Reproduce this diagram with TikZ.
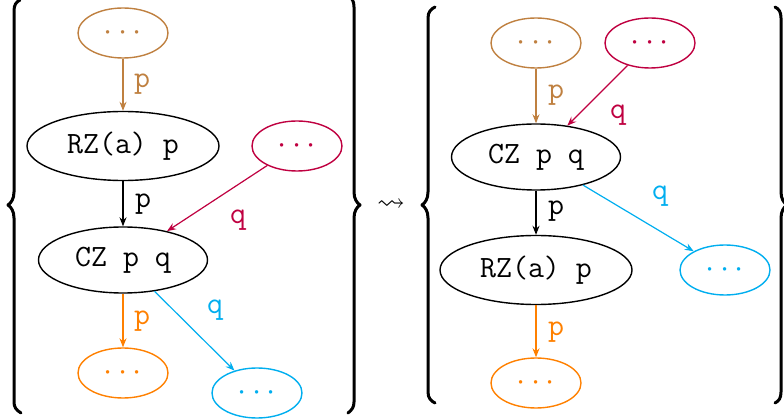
\RequirePackage{fix-cm}
\documentclass[tikz,border=0pt]{standalone}
\usepackage{amssymb}
\usepackage{graphicx}
\usepackage{fontspec}
\usetikzlibrary{shapes.geometric,arrows.meta}
\definecolor{cbrown}{RGB}{191,128,64}
\definecolor{cred}{RGB}{191,0,64}
\definecolor{corange}{RGB}{255,128,0}
\definecolor{ccyan}{RGB}{0,174,239}
\tikzset{
  every node/.style={font=\fontsize{31}{37}\selectfont\ttfamily},
  gate/.style={ellipse,draw,line width=1.4pt,inner sep=0pt},
  big/.style={gate,minimum width=192pt,minimum height=69pt},
  mid/.style={gate,minimum width=169pt,minimum height=66pt},
  dots/.style={gate,minimum width=90pt,minimum height=50pt,font=\fontsize{32.6}{38}\selectfont},
  conn/.style={line width=1.2pt,-{Stealth[length=9pt,width=7pt,inset=3pt]}},
  lbl/.style={inner sep=0pt},
  bracepath/.style={line width=3pt,line cap=round,line join=round}
}
\newcommand{\dd}{$\cdots$}
\begin{document}
\begin{tikzpicture}[x=1pt,y=-1pt]
\useasboundingbox (0,0) rectangle (784,419);
% left group
\node[dots,cbrown] (L1) at (123,33) {\dd};
\node[big] (L2) at (123,146) {RZ(a) p};
\node[dots,cred] (L3) at (297,146) {\dd};
\node[mid] (L4) at (123,260) {CZ p q};
\node[dots,corange] (L5) at (123,373) {\dd};
\node[dots,ccyan] (L6) at (257,393) {\dd};
\draw[conn,cbrown] (L1) -- (L2);
\draw[conn] (L2) -- (L4);
\draw[conn,cred] (L3) -- (L4);
\draw[conn,corange] (L4) -- (L5);
\draw[conn,ccyan] (L4) -- (L6);
\node[lbl,cbrown] (l1) at (142,84) {p};
\node[lbl] (l2) at (143,204) {p};
\node[lbl,cred] (l3) at (238,220) {q};
\node[lbl,corange] (l4) at (142,321) {p};
\node[lbl,ccyan] (l5) at (215,310) {q};
% braces
\draw[bracepath] (20,0) .. controls (16,2) and (14,5) .. (14,11) -- (14,192)
  .. controls (14,199) and (11,203) .. (8,205) .. controls (11,207) and (14,211) .. (14,218)
  -- (14,402) .. controls (14,407) and (16,410) .. (21,413);
\draw[bracepath] (348,-4) .. controls (352,-2) and (354,1) .. (354,7) -- (354,192)
  .. controls (354,199) and (357,203) .. (360,205) .. controls (357,207) and (354,211) .. (354,218)
  -- (354,402) .. controls (354,407) and (352,410) .. (348,413);
\node[font=\fontsize{24.88}{30}\selectfont] (sq) at (391,205) {\scalebox{1.12}{$\leadsto$}};
\draw[bracepath] (435,7) .. controls (431,9) and (428,12) .. (428,18) -- (428,192)
  .. controls (428,199) and (425,203) .. (422,205) .. controls (425,207) and (428,211) .. (428,218)
  -- (428,392) .. controls (428,398) and (431,401) .. (435,403);
\draw[bracepath] (775,7) .. controls (779,9) and (781,12) .. (781,18) -- (781,192)
  .. controls (781,199) and (784,203) .. (787,205) .. controls (784,207) and (781,211) .. (781,218)
  -- (781,392) .. controls (781,398) and (779,401) .. (775,403);
% right group
\node[dots,cbrown] (R1) at (536,43) {\dd};
\node[dots,cred] (R2) at (650,43) {\dd};
\node[mid] (R3) at (536,157) {CZ p q};
\node[big] (R4) at (536,270) {RZ(a) p};
\node[dots,ccyan] (R5) at (725,270) {\dd};
\node[dots,corange] (R6) at (536,383) {\dd};
\draw[conn,cbrown] (R1) -- (R3);
\draw[conn,cred] (R2) -- (R3);
\draw[conn] (R3) -- (R4);
\draw[conn,ccyan] (R3) -- (R5);
\draw[conn,corange] (R4) -- (R6);
\node[lbl,cbrown] (r1) at (556,95) {p};
\node[lbl,cred] (r2) at (618,115) {q};
\node[lbl] (r3) at (556,211) {p};
\node[lbl,ccyan] (r4) at (660,196) {q};
\node[lbl,corange] (r5) at (556,332) {p};
\end{tikzpicture}
\end{document}
